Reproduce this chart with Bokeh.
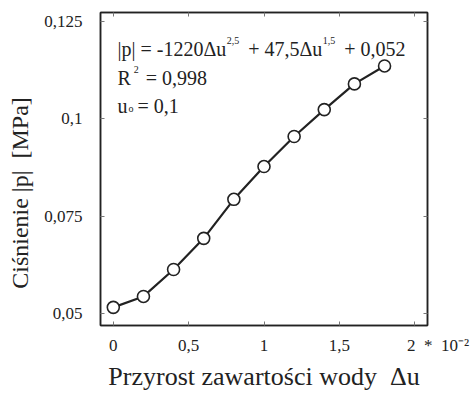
from bokeh.plotting import figure
from bokeh.models import Range1d, FixedTicker, Label, LinearAxis
from bokeh.embed import file_html
from bokeh.resources import INLINE

# ---- data ----
DU = [0.0, 0.2, 0.4, 0.6, 0.8, 1.0, 1.2, 1.4, 1.6, 1.8]          # Δu  [*10^-2]
P = [0.0517, 0.0545, 0.0614, 0.0694, 0.0794, 0.0878, 0.0955, 0.1024, 0.1090, 0.1136]  # |p| [MPa]

X_TICKS = [0, 0.5, 1, 1.5, 2]
X_TICK_LABELS = ["0", "0,5", "1", "1,5", "2\u00a0\u00a0*\u00a0\u00a010\u207b\u00b2"]
Y_TICKS = [0.05, 0.075, 0.1, 0.125]
Y_TICK_LABELS = ["0,05", "0,075", "0,1", "0,125"]

X_TITLE = "Przyrost zawartości wody \u00a0Δu"
Y_TITLE = "Ciśnienie |p| \u00a0[MPa]"

FONT = "Liberation Serif"
NB = "\u00a0"

p = figure(width=472, height=394, output_backend="svg", toolbar_location=None,
           x_range=Range1d(-0.085, 2.085), y_range=Range1d(0.04705, 0.1273),
           min_border_left=100, min_border_right=45, min_border_top=12, min_border_bottom=69)
p.background_fill_color = "white"
p.border_fill_color = "white"
p.outline_line_color = "#222222"
p.outline_line_width = 1.5
p.xgrid.visible = False
p.ygrid.visible = False

def style_axis(ax, ticks, labels):
    ax.ticker = FixedTicker(ticks=ticks)
    ax.major_label_overrides = {t: l for t, l in zip(ticks, labels)}
    ax.major_tick_in = 4
    ax.major_tick_out = 0
    ax.minor_tick_line_color = None
    ax.major_tick_line_color = "#777777"
    ax.axis_line_color = "#222222"
    ax.axis_line_width = 1.5
    ax.major_label_text_font = FONT
    ax.major_label_text_font_size = "17px"
    ax.major_label_text_color = "#222222"
    ax.axis_label_text_font = FONT
    ax.axis_label_text_font_style = "normal"
    ax.axis_label_text_color = "#222222"

# last x label: the "2" must sit on its tick, the multiplier trails to the right
x_labels = list(X_TICK_LABELS)
x_labels[-1] = NB * 11 + x_labels[-1]
style_axis(p.xaxis[0], X_TICKS, x_labels)
style_axis(p.yaxis[0], Y_TICKS, Y_TICK_LABELS)
p.xaxis.axis_label = X_TITLE
p.yaxis.axis_label = Y_TITLE + NB * 8      # shifts the centred title downward like the original
p.xaxis.axis_label_text_font_size = "26px"
p.yaxis.axis_label_text_font_size = "24px"
p.xaxis.major_label_standoff = 10
p.xaxis.axis_label_standoff = 4
p.yaxis.major_label_standoff = 18
p.yaxis.axis_label_standoff = 8

# inner ticks on the right and top frame sides
for loc, ticks in (("right", Y_TICKS), ("above", X_TICKS)):
    ax = LinearAxis(ticker=FixedTicker(ticks=ticks))
    ax.major_tick_in = 4
    ax.major_tick_out = 0
    ax.minor_tick_line_color = None
    ax.major_tick_line_color = "#777777"
    ax.axis_line_color = "#222222"
    ax.axis_line_width = 1.5
    ax.major_label_text_color = None
    ax.major_label_text_font_size = "1px"
    p.add_layout(ax, loc)

# data: line through the measured points + open circles
p.line(DU, P, line_color="#222222", line_width=2.2)
p.scatter(DU, P, size=12, marker="circle", fill_color="white",
          line_color="#222222", line_width=1.6)

# ---- annotation text (screen units relative to the frame: x from left, y from bottom) ----
W = {'|': 0.2, 'p': 0.5, ' ': 0.25, '=': 0.564, '-': 0.333, 'Δ': 0.612, 'u': 0.5,
     '+': 0.564, ',': 0.25, 'R': 0.667, 'o': 0.5}
def tw(s, size):
    return sum(W.get(c, 0.5) for c in s) * size

MAIN = 20
SUP = 10

def lab(x, y, txt, size):
    p.add_layout(Label(x=x, y=y, x_units="screen", y_units="screen", text=txt,
                       text_font=FONT, text_font_size=f"{size}px", text_color="#222222",
                       text_baseline="alphabetic", text_align="left"))

x0 = 17
y1, y2, y3 = 277, 248, 220
parts = [("|p| = -1220Δu", MAIN, 0, 1), ("2,5", SUP, 8, 9), ("+ 47,5Δu", MAIN, 0, 1),
         ("1,5", SUP, 8, 9), ("+ 0,052", MAIN, 0, 0)]
x = x0
for txt, size, dy, gap in parts:
    lab(x, y1 + dy, txt, size)
    x += tw(txt, size) + gap

lab(x0, y2, "R", MAIN)
lab(x0 + tw("R", MAIN) + 3, y2 + 8, "2", SUP)
lab(x0 + tw("R", MAIN) + 15, y2, "= 0,998", MAIN)

lab(x0, y3, "u", MAIN)
lab(x0 + tw("u", MAIN) + 1, y3 - 3, "o", SUP)
lab(x0 + tw("u", MAIN) + 10, y3, "= 0,1", MAIN)

open("out.html", "w").write(file_html(p, INLINE))
